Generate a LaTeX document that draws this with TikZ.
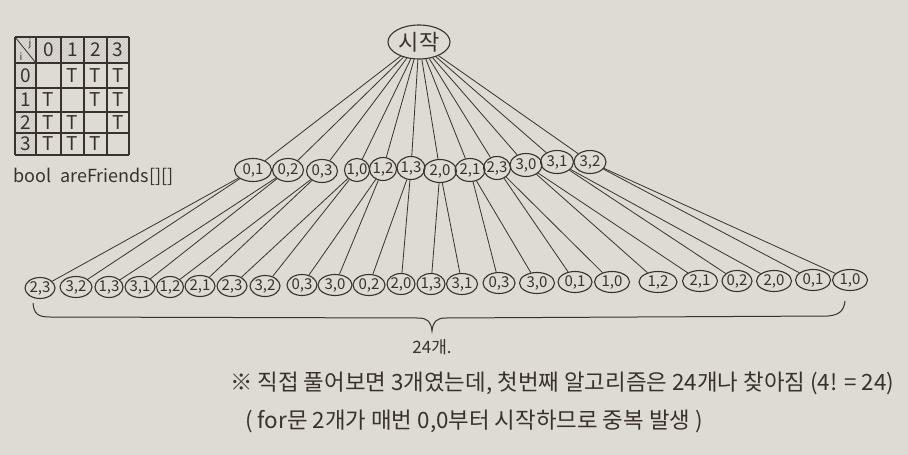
\documentclass[tikz,border=0pt]{standalone}
\usepackage{fontspec}
\setmainfont{Noto Sans CJK KR}
\usetikzlibrary{shapes.geometric,patterns}
\definecolor{paper}{RGB}{222,218,212}
\definecolor{ink}{RGB}{58,50,42}
\begin{document}
\begin{tikzpicture}[x=1pt,y=-1pt,
  oval/.style={ellipse,draw=ink,line width=1.1pt,inner sep=-2pt,text=ink},
  lvl/.style={oval,minimum height=23pt,font=\fontsize{15}{15}\selectfont},
  leaf/.style={oval,minimum height=21pt,font=\fontsize{15}{15}\selectfont},
  edge/.style={draw=ink,line width=0.8pt},
  grid line/.style={draw=ink,line width=1.3pt},
  cell/.style={text=ink,inner sep=0pt,font=\fontsize{19}{19}\selectfont},
  label text/.style={text=ink,inner sep=0pt}]
\fill[paper] (0,0) rectangle (908,455);
\useasboundingbox (0,0) rectangle (908,455);

% ---- table ----
\fill[pattern=north east lines,pattern color=ink!30] (15,37) rectangle (129,63);
\fill[pattern=north east lines,pattern color=ink!30] (15,63) rectangle (36,155);
\foreach \x in {15,36,61,84,107,129} \draw[grid line] (\x,37) -- (\x,155);
\foreach \y in {37,63,88,112,133,155} \draw[grid line] (15,\y) -- (129,\y);
\draw[ink,line width=0.8pt] (15,37) -- (36,63);
\node[label text,font=\fontsize{10}{10}\selectfont] (hj) at (30,44) {j};
\node[label text,font=\fontsize{10}{10}\selectfont] (hi) at (21,57) {i};
\foreach \c/\x in {0/48.5,1/72.5,2/95.5,3/118}
  \node[cell] (col\c) at (\x,50) {\c};
\foreach \r/\y in {0/75.5,1/100,2/122.5,3/144}
  \node[cell] (row\r) at (25.5,\y) {\r};
\foreach \x/\y [count=\k] in {72.5/75.5,95.5/75.5,118/75.5,
    48.5/100,95.5/100,118/100,
    48.5/122.5,72.5/122.5,118/122.5,
    48.5/144,72.5/144,95.5/144}
  \node[cell] (t\k) at (\x,\y) {T};
\node[label text,anchor=west,font=\fontsize{18}{18}\selectfont] (cap) at (13,177) {bool\enspace areFriends[][]};

% ---- root ----
\node[oval,inner sep=0pt,minimum width=62pt,minimum height=34pt,font=\fontsize{22}{22}\selectfont] (r) at (419,42) {시작};

% ---- level 1 ----
\foreach \a/\b/\x/\y/\w [count=\k] in {0/1/253/170/37,0/2/288/170/31,0/3/322/171/31,
    1/0/357/170/25,1/2/383/169/27,1/3/411/168/28,2/0/440/171/33,2/1/470/170/30,
    2/3/497/168/27,3/0/526/165/32,3/1/557/162/33,3/2/590/162/32}
  \node[lvl,minimum width={\w pt}] (a\k) at (\x,\y) {\a,\b};

% ---- leaves ----
\foreach \a/\b/\x/\y/\w [count=\k] in {2/3/40/288/30,3/2/76/287/32,1/3/109/287/28,
    3/1/140/287/30,1/2/170/287/27,2/1/200/286/30,2/3/232/286/30,3/2/265/286/30,
    0/3/302/285/30,3/0/335/285/34,0/2/369/285/32,2/0/401/284/28,1/3/431/284/28,
    3/1/462/284/31,0/3/499/283/32,3/0/537/283/35,0/1/575/282/34,1/0/612/282/35,
    1/2/658/282/38,2/1/700/281/35,0/2/737/281/30,2/0/774/281/35,0/1/813/280/35,
    1/0/850/280/35}
  \node[leaf,minimum width={\w pt}] (b\k) at (\x,\y) {\a,\b};

% ---- edges ----
\foreach \k in {1,...,12} \draw[edge] (r) -- (a\k);
\foreach \k in {1,...,24} {
  \pgfmathtruncatemacro\p{(\k+1)/2}
  \draw[edge] (a\p) -- (b\k);
}

% ---- brace ----
\draw[ink,line width=1pt] (33,303) .. controls (34,314) and (38,317) .. (50,317)
  -- (418,318) .. controls (428,318) and (431,322) .. (432,331)
  .. controls (433,322) and (436,318) .. (446,318) -- (828,316)
  .. controls (840,315) and (844,310) .. (845,301);
\node[label text,font=\fontsize{17}{17}\selectfont] (cnt) at (432,347) {24개.};

% ---- note ----
\node[label text,anchor=west,font=\fontsize{22.4}{22.4}\selectfont] (note1) at (230,383)
  {※ 직접 풀어보면 3개였는데, 첫번째 알고리즘은 24개나 찾아짐 (4! = 24)};
\node[label text,anchor=west,font=\fontsize{22.4}{22.4}\selectfont] (note2) at (245,421)
  {( for문 2개가 매번 0,0부터 시작하므로 중복 발생 )};
\end{tikzpicture}
\end{document}
